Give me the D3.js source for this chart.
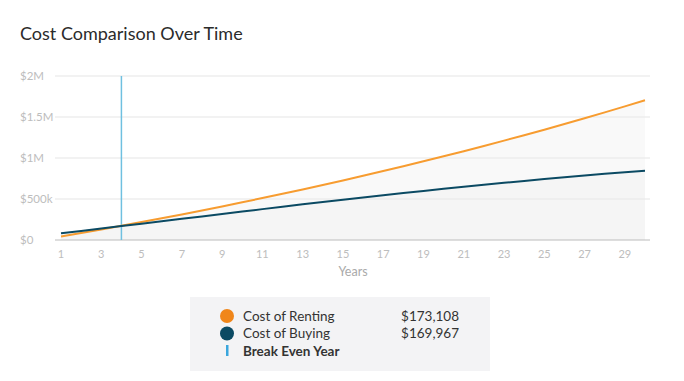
<!DOCTYPE html>
<html>
<head>
<meta charset="utf-8">
<script src="https://cdn.jsdelivr.net/npm/d3@7"></script>
<style>
  body { margin: 0; background: #fff; font-family: Lato, "Open Sans", sans-serif; }
</style>
</head>
<body>
<svg id="chart" width="684" height="381"></svg>
<script>
const years = d3.range(1, 31);
const rentCost = [42000, 84840, 128537, 173108, 218570, 264941, 312240, 360485, 409694, 459888,
  511086, 563308, 616574, 670905, 726323, 782850, 840507, 899317, 959304, 1020490,
  1082899, 1146557, 1211489, 1277718, 1345273, 1414178, 1484462, 1556151, 1629274, 1703859];
const buyCost = [82000, 111000, 140500, 169967, 199500, 229000, 258500, 288000, 317500, 347000,
  376500, 406000, 435000, 463500, 491500, 519000, 546000, 572500, 598500, 624000,
  649000, 673500, 697500, 720500, 743000, 765000, 786000, 806500, 826000, 845000];
const breakEvenYear = 4;
const yTicks = [0, 500000, 1000000, 1500000, 2000000];
const yTickLabels = ["$0", "$500k", "$1M", "$1.5M", "$2M"];
const xTicks = d3.range(1, 30, 2);
const legendItems = [
  {label: "Cost of Renting", value: "$173,108", color: "#f0861a", type: "dot"},
  {label: "Cost of Buying", value: "$169,967", color: "#0b4a63", type: "dot"},
  {label: "Break Even Year", value: "", color: "#3aa6dd", type: "bar"}
];

const svg = d3.select("#chart");

const x = d3.scaleLinear().domain([1, 30]).range([61, 645]);
const y = d3.scaleLinear().domain([0, 2000000]).range([240, 76]);

svg.append("text")
  .attr("x", 20).attr("y", 40)
  .attr("font-size", 18)
  .attr("fill", "#2b2b2b")
  .text("Cost Comparison Over Time");

// gridlines
svg.append("g")
  .selectAll("line")
  .data(yTicks.slice(1))
  .join("line")
  .attr("x1", 55).attr("x2", 650)
  .attr("y1", d => y(d)).attr("y2", d => y(d))
  .attr("stroke", "#e5e5e5");

// y labels
svg.append("g")
  .selectAll("text")
  .data(yTicks)
  .join("text")
  .attr("x", 20)
  .attr("y", d => y(d) + 4)
  .attr("font-size", 11.5)
  .attr("fill", "#bdbdbd")
  .text((d, i) => yTickLabels[i]);

// areas under lines
const rentData = years.map((yr, i) => ({yr, v: rentCost[i]}));
const buyData = years.map((yr, i) => ({yr, v: buyCost[i]}));

const area = d3.area().x(d => x(d.yr)).y0(y(0)).y1(d => y(d.v));
[rentData, buyData].forEach(data => {
  svg.append("path")
    .datum(data)
    .attr("d", area)
    .attr("fill", "#ebebeb")
    .attr("fill-opacity", 0.3);
});

// x axis
svg.append("line")
  .attr("x1", 55).attr("x2", 650)
  .attr("y1", y(0)).attr("y2", y(0))
  .attr("stroke", "#bcbcbc");

svg.append("g")
  .selectAll("text")
  .data(xTicks)
  .join("text")
  .attr("x", d => x(d))
  .attr("y", 258)
  .attr("text-anchor", "middle")
  .attr("font-size", 11)
  .attr("fill", "#bdbdbd")
  .text(d => d);

svg.append("text")
  .attr("x", x(15.5)).attr("y", 276)
  .attr("text-anchor", "middle")
  .attr("font-size", 12.5)
  .attr("fill", "#aaaaaa")
  .text("Years");

// break even
svg.append("line")
  .attr("x1", x(breakEvenYear)).attr("x2", x(breakEvenYear))
  .attr("y1", y(2000000)).attr("y2", y(0))
  .attr("stroke", "#6fc0e0")
  .attr("stroke-width", 1.5);

const line = d3.line().x(d => x(d.yr)).y(d => y(d.v));
svg.append("path").datum(rentData).attr("d", line)
  .attr("fill", "none").attr("stroke", "#f79c30").attr("stroke-width", 2);
svg.append("path").datum(buyData).attr("d", line)
  .attr("fill", "none").attr("stroke", "#0b4a63").attr("stroke-width", 2);

// legend
const legend = svg.append("g");
legend.append("rect")
  .attr("x", 190).attr("y", 297)
  .attr("width", 300).attr("height", 74)
  .attr("fill", "#f3f3f5");

const rows = legend.selectAll("g")
  .data(legendItems)
  .join("g")
  .attr("transform", (d, i) => `translate(0,${316 + i * 17.5})`);

rows.each(function(d) {
  const g = d3.select(this);
  if (d.type === "dot") {
    g.append("circle").attr("cx", 227).attr("cy", 0).attr("r", 7).attr("fill", d.color);
  } else {
    g.append("rect").attr("x", 226).attr("y", -6).attr("width", 2.5).attr("height", 11).attr("fill", d.color);
  }
  g.append("text")
    .attr("x", 243).attr("y", 4.5)
    .attr("font-size", 13.5)
    .attr("font-weight", d.type === "bar" ? "bold" : "normal")
    .attr("fill", "#333")
    .text(d.label);
  g.append("text")
    .attr("x", 459).attr("y", 4.5)
    .attr("text-anchor", "end")
    .attr("font-size", 13.5)
    .attr("fill", "#333")
    .text(d.value);
});
</script>
</body>
</html>
